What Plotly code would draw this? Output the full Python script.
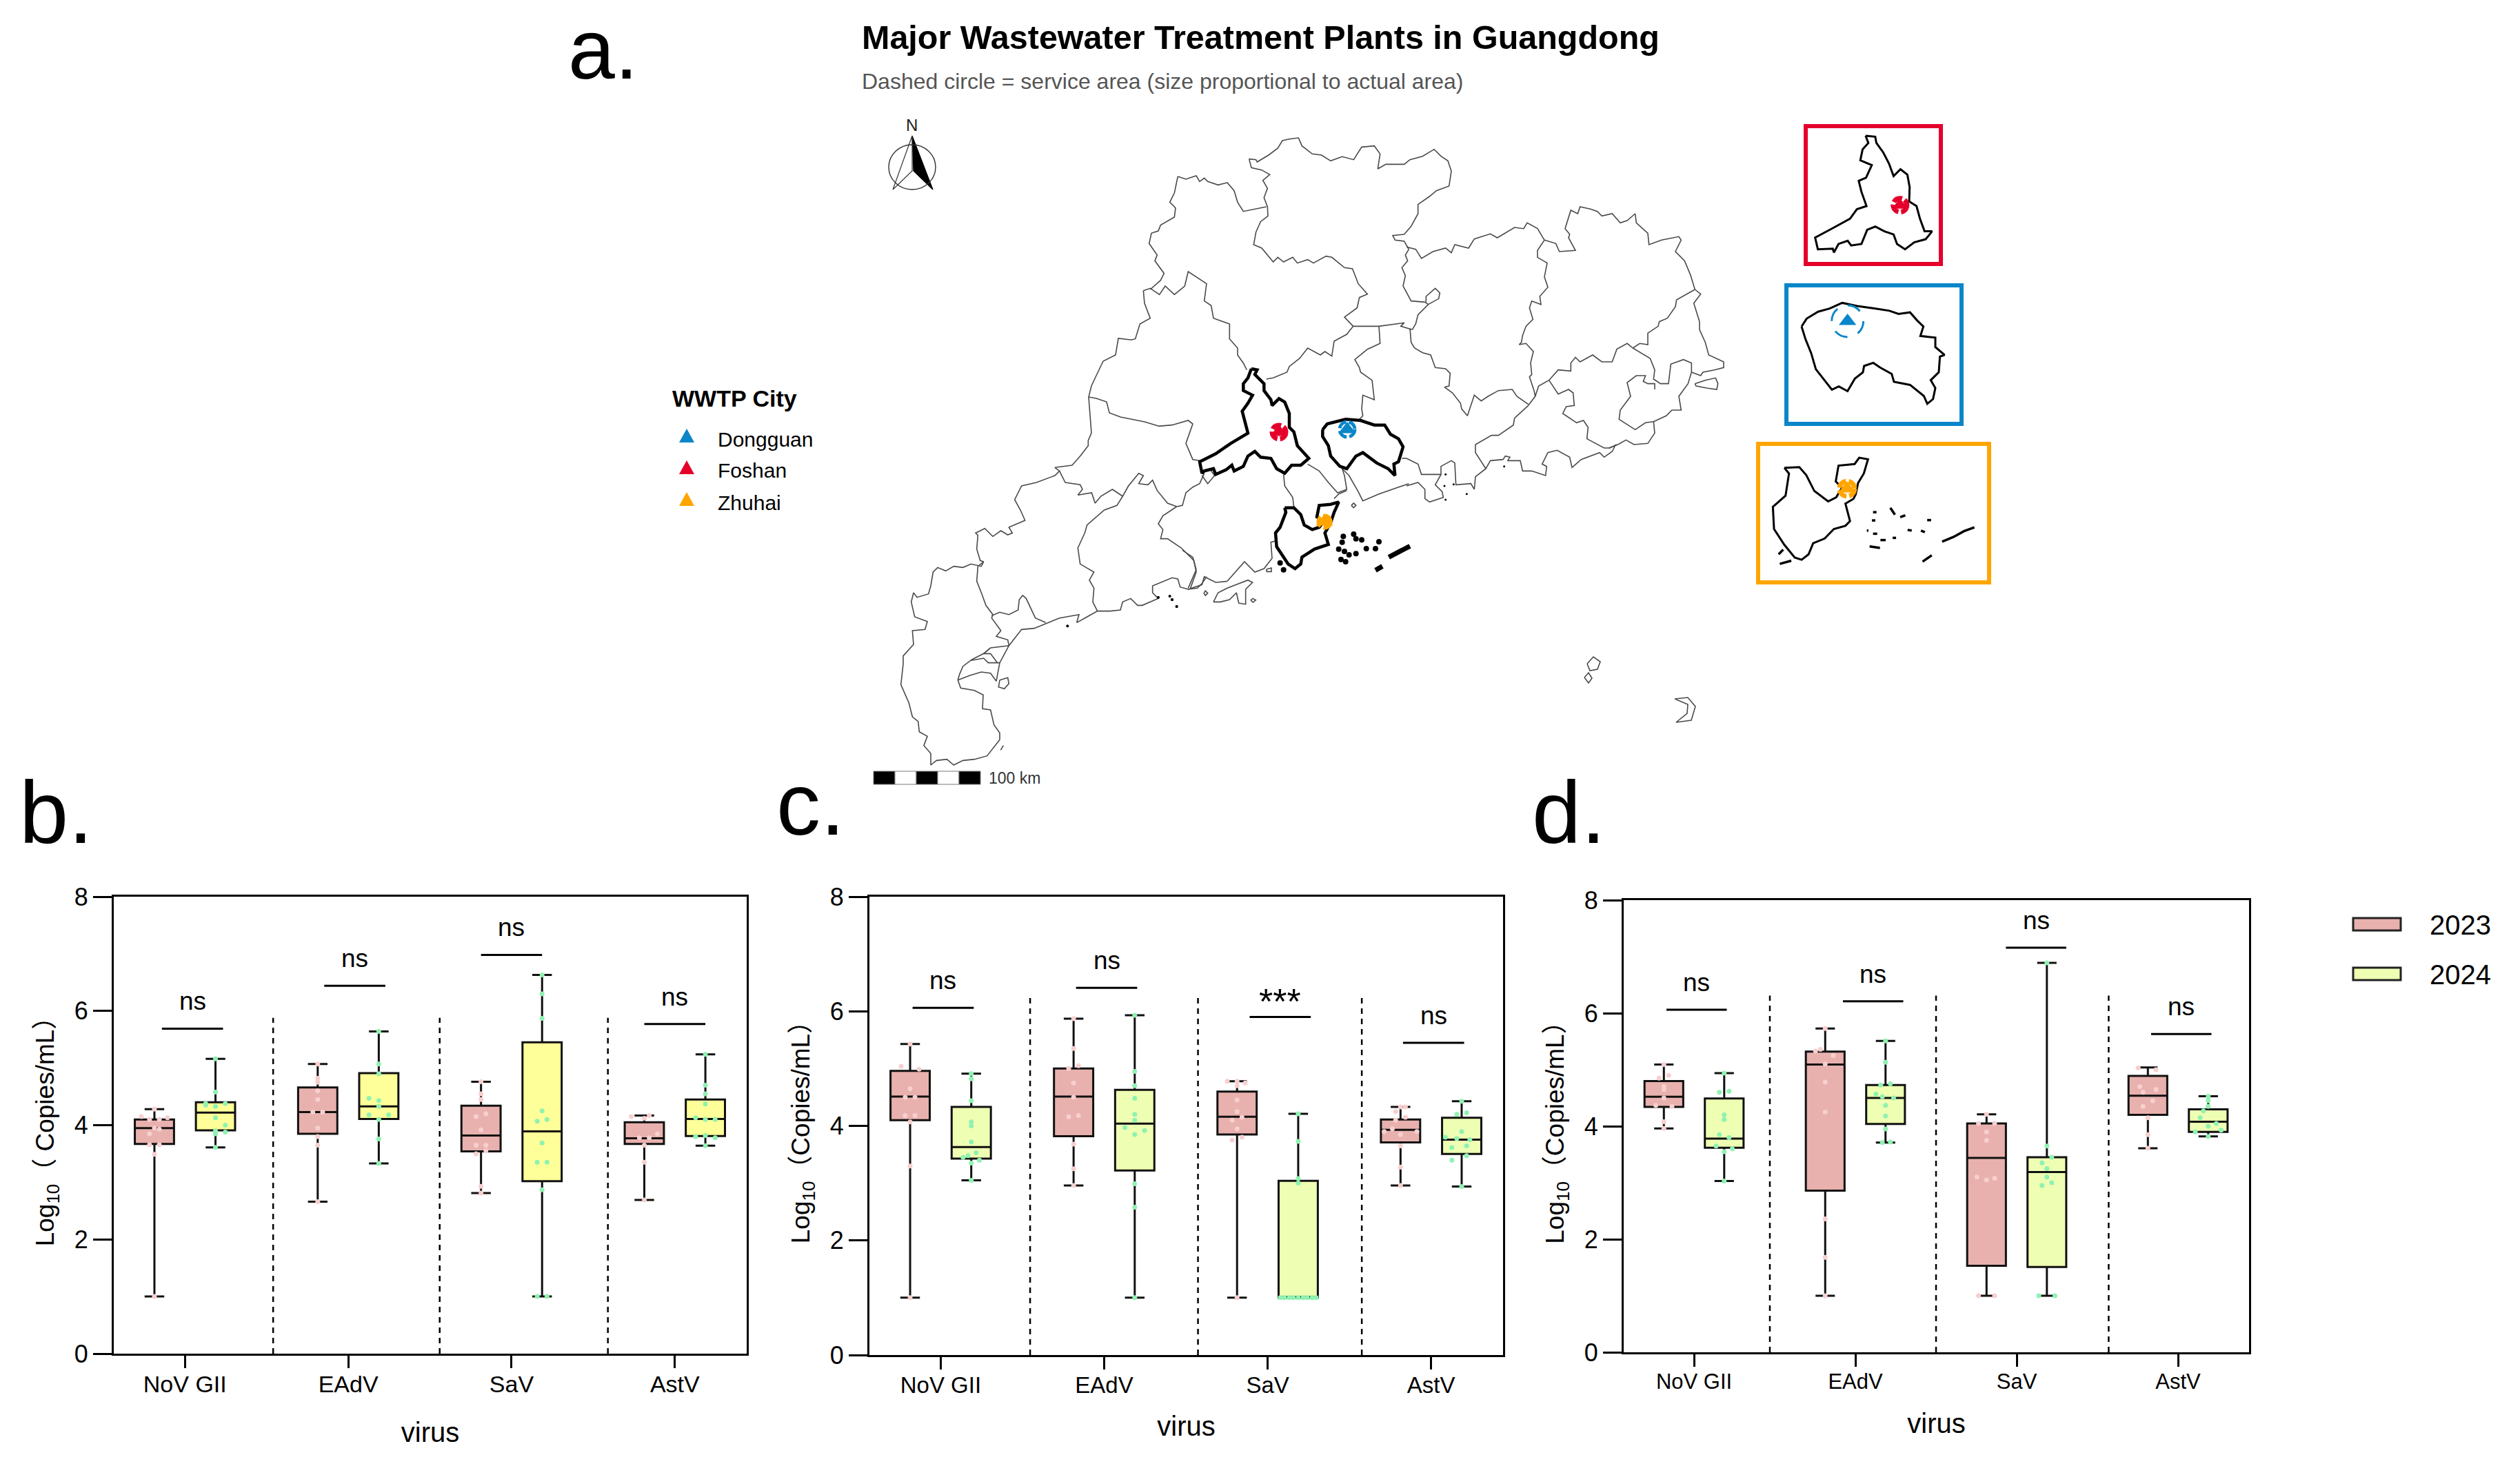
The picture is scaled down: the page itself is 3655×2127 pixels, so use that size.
import plotly.graph_objects as go

W, H = 3655, 2127
virus = ["NoV GII", "EAdV", "SaV", "AstV"]
years = ["2023", "2024"]

# ---------- panel b ----------
b23_low = [1.0, 2.66, 2.81, 2.69]
b23_q1 = [3.67, 3.85, 3.54, 3.67]
b23_med = [3.95, 4.23, 3.82, 3.77]
b23_q3 = [4.10, 4.66, 4.34, 4.05]
b23_high = [4.28, 5.07, 4.76, 4.17]
b24_low = [3.61, 3.33, 1.0, 3.64]
b24_q1 = [3.91, 4.11, 3.02, 3.81]
b24_med = [4.22, 4.33, 3.89, 4.11]
b24_q3 = [4.40, 4.91, 5.45, 4.45]
b24_high = [5.16, 5.64, 6.63, 5.24]
b23_pts = [[1.0, 3.49, 3.66, 3.66, 3.85, 3.93, 3.95, 4.15, 4.1, 4.1, 4.13, 4.28],
           [2.66, 3.65, 3.8, 3.95, 4.23, 4.23, 4.45, 4.6, 4.75, 4.82, 5.07],
           [2.81, 2.93, 3.5, 3.55, 3.65, 3.65, 3.92, 4.15, 4.2, 4.45, 4.55, 4.76],
           [2.69, 3.35, 3.65, 3.78, 3.78, 3.85, 4.15, 4.12, 4.17]]
b23_dx = [[0, 0, -.03, .03, -.03, .03, 0, -.08, -.03, .03, .08, 0],
          [0, 0, 0, 0, -.03, .03, 0, 0, 0, 0, 0],
          [0, 0, -.03, .03, -.03, .03, 0, -.03, .03, 0, 0, 0],
          [0, 0, 0, -.03, .03, .08, -.08, 0, .03]]
b24_pts = [[3.61, 3.85, 3.9, 3.88, 4.0, 4.13, 4.33, 4.38, 4.35, 4.38, 4.58, 5.16],
           [3.33, 3.76, 4.1, 4.18, 4.18, 4.33, 4.43, 4.47, 4.9, 5.07, 5.64],
           [1.0, 1.0, 2.87, 3.35, 3.35, 3.69, 4.07, 4.1, 4.25, 5.87, 6.3, 6.63],
           [3.64, 3.8, 3.78, 3.82, 4.1, 4.1, 4.13, 4.37, 4.55, 4.7, 5.24]]
b24_dx = [[0, 0, 0, .06, .06, 0, 0, -.06, -.06, .06, 0, 0],
          [0, 0, 0, -.06, .06, 0, 0, -.06, 0, 0, 0],
          [-.03, .03, 0, -.03, .03, 0, -.03, .03, 0, 0, 0, 0],
          [0, -.06, .06, 0, 0, .06, -.06, 0, 0, 0, 0]]
b_sig_text = ["ns", "ns", "ns", "ns"]
b_sig_x = [1.046, 2.04, 3.0, 4.0]
b_sig_y = [5.69, 6.44, 6.98, 5.77]
b_sep_x = [1.54, 2.56, 3.59]
b_sep_top = [5.88, 5.88, 5.88]

# ---------- panel c ----------
c23_low = [1.0, 2.96, 1.0, 2.96]
c23_q1 = [4.10, 3.82, 3.85, 3.71]
c23_med = [4.51, 4.51, 4.16, 3.93]
c23_q3 = [4.96, 5.0, 4.6, 4.11]
c23_high = [5.43, 5.87, 4.78, 4.33]
c24_low = [3.05, 1.0, 1.0, 2.94]
c24_q1 = [3.43, 3.22, 1.0, 3.51]
c24_med = [3.63, 4.04, 1.0, 3.76]
c24_q3 = [4.33, 4.63, 3.04, 4.14]
c24_high = [4.91, 5.93, 4.21, 4.43]
c23_pts = [[1.0, 3.3, 4.07, 4.18, 4.18, 4.5, 4.5, 4.65, 5.04, 4.99, 5.43],
           [2.96, 3.25, 3.68, 4.16, 4.18, 4.5, 4.75, 5.0, 5.05, 5.35, 5.87],
           [1.0, 3.75, 3.8, 3.95, 4.1, 4.15, 4.25, 4.45, 4.7, 4.75, 4.78, 4.78],
           [2.96, 3.28, 3.65, 3.85, 3.9, 3.95, 3.9, 4.15, 4.1, 4.25, 4.33, 4.33]]
c23_dx = [[0, 0, 0, -.03, .03, -.03, .03, 0, -.055, .055, 0],
          [0, 0, 0, -.03, .03, 0, 0, -.03, .03, 0, 0],
          [0, -.03, .03, 0, -.03, .03, 0, 0, 0, .05, -.06, 0],
          [0, 0, 0, 0, -.1, -.05, .1, .03, -.03, -.03, .03, 0]]
c24_pts = [[3.05, 3.35, 3.4, 3.45, 3.48, 3.53, 3.72, 4.0, 4.07, 4.44, 4.82, 4.91],
           [1.0, 2.58, 2.99, 3.85, 3.92, 3.97, 4.1, 4.2, 4.48, 4.7, 4.95, 5.93],
           [1.0, 1.0, 1.0, 1.0, 1.0, 1.0, 1.0, 1.0, 1.0, 3.0, 3.08, 3.73, 4.21],
           [2.94, 3.4, 3.48, 3.62, 3.65, 3.76, 3.78, 3.8, 3.9, 4.2, 4.23, 4.43]]
c24_dx = [[0, 0, .05, -.05, -.02, .03, 0, 0, 0, 0, 0, 0],
          [0, 0, 0, 0, .06, -.06, 0, 0, 0, 0, 0, 0],
          [-.11, -.085, -.055, -.03, 0, .03, .055, .085, .11, 0, 0, 0, 0],
          [0, -.06, .03, -.06, .03, .05, -.03, -.1, 0, -.03, .03, 0]]
c_sig_text = ["ns", "ns", "***", "ns"]
c_sig_x = [1.015, 2.015, 3.077, 4.015]
c_sig_y = [6.06, 6.41, 5.9, 5.45]
c_sep_x = [1.547, 2.574, 3.576]
c_sep_top = [6.24, 6.28, 6.28]

# ---------- panel d ----------
d23_low = [3.96, 1.0, 1.0, 3.61]
d23_q1 = [4.34, 2.86, 1.53, 4.2]
d23_med = [4.52, 5.09, 3.44, 4.54]
d23_q3 = [4.8, 5.32, 4.05, 4.89]
d23_high = [5.09, 5.73, 4.21, 5.04]
d24_low = [3.03, 3.71, 1.0, 3.82]
d24_q1 = [3.62, 4.04, 1.51, 3.9]
d24_med = [3.78, 4.5, 3.19, 4.08]
d24_q3 = [4.49, 4.73, 3.45, 4.3]
d24_high = [4.94, 5.51, 6.89, 4.53]
d23_pts = [[3.96, 4.08, 4.37, 4.35, 4.5, 4.65, 4.7, 4.85, 4.9, 5.09],
           [1.0, 1.68, 2.36, 4.25, 4.78, 5.1, 5.25, 5.33, 5.36, 5.73],
           [1.0, 1.0, 3.05, 3.1, 3.08, 3.75, 3.9, 4.05, 4.05, 4.21],
           [3.61, 3.85, 4.15, 4.35, 4.45, 4.6, 4.65, 4.7, 5.0, 5.03]]
d23_dx = [[0, 0, -.05, .05, 0, 0, 0, -.03, .03, 0],
          [0, 0, 0, 0, 0, 0, .05, -.06, -.03, 0],
          [-.05, .05, 0, -.06, .05, 0, 0, -.05, .05, 0],
          [0, 0, 0, -.03, .03, -.03, .05, -.05, .05, -.06]]
d24_pts = [[3.03, 3.55, 3.6, 3.65, 3.8, 3.85, 4.12, 4.2, 4.6, 4.62, 4.94],
           [3.71, 3.72, 3.95, 4.18, 4.37, 4.5, 4.52, 4.57, 4.73, 4.75, 5.13, 5.51],
           [1.0, 1.0, 2.95, 3.0, 3.1, 3.25, 3.35, 3.45, 3.65, 6.89],
           [3.82, 3.9, 3.93, 4.0, 4.05, 4.15, 4.27, 4.35, 4.45, 4.53]]
d24_dx = [[0, 0, .05, -.05, .03, -.03, 0, 0, -.03, .03, 0],
          [-.02, .03, 0, 0, 0, .05, -.02, -.06, -.03, .03, 0, 0],
          [-.05, .05, -.03, .03, 0, 0, -.03, .03, 0, 0],
          [0, -.08, .08, 0, .05, -.05, -.03, 0, 0, 0]]
d_sig_text = ["ns", "ns", "ns", "ns"]
d_sig_x = [1.016, 2.11, 3.12, 4.02]
d_sig_y = [6.06, 6.21, 7.16, 5.63]
d_sep_x = [1.47, 2.50, 3.57]
d_sep_top = [6.31, 6.31, 6.31]

# ---------- map borders, traced per map sheet (sheet units) ----------
west_sheet = [
    [(410,525),(400,545),(355,535),(320,550),(280,545),(245,565),(210,550),(190,570),(180,630),(170,665),(120,680),(105,660),(95,700),(110,765),(165,785),(155,820),(100,825),(105,885),(60,935),(60,970),(50,1060),(85,1140),(100,1200),(125,1220),(130,1265),(165,1285),(150,1325),(180,1360),(180,1410),(205,1390),(250,1385),(280,1410),(320,1390),(370,1385),(425,1370),(480,1300),(480,1270),(455,1235),(440,1170),(405,1165),(408,1105),(370,1085),(310,1075),(298,1040),(305,1015),(320,980),(360,950),(410,925),(440,900),(520,890)],
    [(385,545),(380,610),(400,660),(420,715),(450,755),(445,770),(485,825),(465,850),(515,865),(520,890)],
    [(385,545),(410,525),(395,520),(380,470),(385,410),(375,400),(385,395),(415,380),(450,415),(485,390),(515,408),(535,400),(520,375),(590,345),(570,300),(545,255),(575,195),(640,180),(720,150),(740,130),(720,115),(795,105),(830,65),(865,20),(865,0)],
    [(520,890),(575,820),(630,815),(690,790),(740,770),(825,755),(815,790),(860,765),(905,740),(960,740),(1005,735),(1015,700),(1050,685),(1080,715),(1100,715),(1170,685),(1145,660),(1145,630),(1230,595),(1255,600),(1265,635),(1300,645),(1340,640),(1360,620),(1380,590)],
    [(445,760),(480,745),(520,755),(560,735),(565,690),(580,672),(595,685),(635,770),(680,790)],
    [(905,740),(885,700),(890,640),(870,605),(890,570),(830,535),(820,465),(850,400),(860,365),(905,325),(935,300),(990,280),(1015,240),(1040,195),(1085,140),(1105,150),(1085,185),(1125,190),(1145,170),(1165,215),(1210,270),(1250,285)],
    [(740,130),(765,180),(830,190),(840,210),(820,235),(880,225),(895,270),(920,240),(970,210),(1015,240)],
    [(1250,285),(1190,325),(1170,360),(1190,385),(1180,425),(1210,425),(1270,465),(1325,520),(1335,570),(1310,640)],
    [(1250,285),(1275,280),(1290,225),(1320,200),(1350,185),(1370,140)],
    [(440,900),(410,925),(440,925),(470,965)],
    [(355,955),(410,945),(430,965),(480,965)],
    [(520,890),(480,965),(465,1045),(440,1010),(400,1005),(350,1020),(298,1040)],
    [(480,1040),(515,1030),(520,1055),(500,1078),(475,1070),(480,1040)],
    [(484,1345),(496,1325)],
]
north_sheet = [
    [(205,198),(240,210),(285,195),(300,220),(320,205),(335,220),(380,235),(420,225),(450,260),(465,310),(490,350),(540,340),(590,330)],
    [(205,198),(190,270),(170,310),(195,335),(190,375),(130,410),(120,435),(90,445),(80,490),(115,540),(105,565),(145,620),(130,650),(85,690)],
    [(55,695),(85,685),(125,712),(150,675),(190,712),(235,675),(250,612),(330,665),(320,740),(350,760),(360,815),(430,840),(430,905),(465,945),(465,975),(490,1010),(505,1040)],
    [(0,910),(20,905),(40,840),(85,815),(60,750),(55,695)],
    [(515,122),(545,125),(550,135),(600,105),(640,75),(660,42),(690,35),(730,30),(745,65),(790,100),(830,105),(870,130),(920,112),(970,125),(1005,70),(1060,65),(1085,100),(1075,165),(1110,145),(1190,145),(1215,125),(1270,110),(1320,80),(1350,110),(1380,130),(1395,175),(1385,240),(1330,260),(1300,285),(1250,320),(1250,360),(1220,415),(1190,450),(1140,455),(1150,475),(1190,480),(1210,515)],
    [(515,122),(525,160),(570,170),(605,190),(575,215),(595,250),(580,290),(595,330),(597,370),(565,395),(545,440),(535,495),(570,510),(620,570),(640,550),(665,570),(705,550),(725,575),(770,560),(795,575),(850,545),(875,550),(930,595),(965,600),(990,665),(1030,710),(995,725),(985,770),(930,810),(968,850)],
    [(968,850),(1080,850),(1190,835),(1175,850),(1225,865)],
    [(1210,515),(1195,540),(1205,565),(1180,595),(1195,630),(1185,675),(1220,740),(1280,745),(1295,755),(1250,800),(1240,840),(1225,865)],
    [(1285,745),(1285,720),(1325,685),(1345,705),(1340,730),(1295,755)],
    [(590,1080),(620,1075),(680,1050),(690,1025),(735,990),(770,945),(825,975),(845,960),(875,980),(885,915),(940,885),(968,850)],
    [(1080,850),(1085,925),(1030,950),(975,995),(995,1030),(1000,1050),(1050,1085),(1060,1170),(1010,1150),(1005,1210),(1010,1240),(990,1260)],
]
east_sheet = [
    [(0,265),(40,275),(65,315),(115,285),(170,270),(195,290),(210,255),(270,270),(295,230),(365,208),(395,225),(470,180),(510,185),(525,160),(570,185),(600,235)],
    [(15,620),(20,680),(35,705),(70,725),(105,735),(125,790),(170,795),(190,815),(185,870),(165,875),(200,900),(235,945),(240,970),(265,1000),(295,910),(325,935),(355,915),(400,890),(460,885),(480,915),(530,950)],
    [(600,235),(570,280),(570,310),(612,335),(600,395),(615,440),(580,480),(585,515),(545,500),(535,530),(550,580),(520,610),(505,650),(500,680),(490,690),(520,685),(552,720),(540,770),(545,820),(535,830),(555,890),(560,915),(530,955)],
    [(600,235),(650,250),(665,285),(735,280),(705,225),(710,210),(690,185),(715,105),(745,120),(755,90),(800,100),(830,110),(850,130),(895,120),(930,160),(960,150),(995,120),(1000,160),(1050,205),(1055,255),(1110,235),(1185,220),(1195,235),(1170,285),(1210,325),(1235,385),(1255,450)],
    [(1255,450),(1280,470),(1250,510),(1275,590),(1275,625),(1300,680),(1315,735),(1380,765),(1380,790),(1340,800),(1290,810),(1280,825),(1240,810)],
    [(1255,450),(1175,495),(1170,525),(1135,575),(1100,590),(1095,610),(1050,640),(1050,690),(1015,685),(985,705),(960,685),(915,710),(895,765),(850,765),(810,735),(755,765),(735,745),(715,770),(715,805),(660,800),(620,845),(575,870),(560,915)],
    [(985,705),(1060,750),(1080,800),(1075,840),(1105,860),(1140,860),(1150,775),(1205,755),(1240,770),(1240,810),(1225,860),(1185,915),(1195,975),(1155,975),(1130,1000),(1075,1025),(1080,1075),(1050,1120),(990,1125),(955,1105),(920,1125),(880,1140)],
    [(1080,885),(1080,860),(1050,860),(1030,850),(1040,825),(1000,825),(960,855),(975,915),(930,975),(925,1015),(995,1060),(1040,1030),(1075,1025)],
    [(620,845),(660,905),(705,885),(725,900),(730,955),(695,960),(680,990),(740,1030),(770,1020),(790,1050),(785,1100),(860,1140),(885,1140),(915,1125)],
    [(530,955),(470,1010),(465,1040),(400,1085),(370,1085),(300,1125),(300,1160),(345,1230),(365,1195),(420,1190),(430,1175),(450,1180),(440,1195),(495,1195),(505,1240),(545,1240),(605,1260),(610,1220),(590,1210),(615,1160),(655,1150),(710,1180),(720,1225),(760,1190),(840,1160),(860,1180),(895,1155),(910,1125)],
    [(1255,860),(1300,845),(1345,835),(1355,860),(1350,885),(1310,880),(1260,870),(1255,860)],
    [(345,1230),(300,1265),(295,1320),(280,1295),(215,1300),(210,1205),(195,1195),(150,1220),(150,1255),(65,1255),(50,1210),(0,1185)],
    [(150,1255),(125,1300),(155,1330),(160,1355),(100,1375),(80,1360),(80,1320),(50,1290),(0,1305)],
]
delta_thin = [
    [(650,460),(700,490),(740,540),(780,585),(820,570),(810,510),(800,480)],
    [(545,505),(550,555),(585,605),(590,650)],
    [(820,575),(785,590),(765,610)],
    [(190,510),(215,545),(245,510),(230,490)],
    [(130,1005),(190,985),(200,950),(250,975),(300,970),(375,885),(420,930),(460,915),(495,870),(490,800),(510,795)],
    [(150,865),(165,920),(130,1000)],
    [(105,835),(150,865)],
    [(0,295),(60,290),(130,270),(150,285),(120,370),(150,440),(180,445)],
    [(800,480),(830,510),(870,580),(890,620),(960,590),(1090,545)],
    [(1060,435),(1080,435)],
    [(240,1060),(260,1020),(300,1000),(340,985),(390,965),(410,975),(380,1005),(380,1070),(350,1065),(340,1020),(310,1050),(270,1060),(240,1060)],
    [(470,918),(492,912),(492,928),(472,928),(470,918)],
    [(840,640),(850,630),(860,640),(850,650),(840,640)],
    [(198,1022),(205,1012),(215,1022),(205,1032),(198,1022)],
    [(402,1052),(412,1045),(424,1052),(412,1062),(402,1052)],
]
delta_foshan = [(405,45),(430,50),(420,70),(460,110),(460,140),(490,180),(495,205),(525,175),(550,190),(570,240),(570,300),(590,320),(605,380),(655,435),(620,465),(580,465),(550,500),(515,480),(490,435),(445,430),(420,405),(390,425),(370,470),(330,490),(320,465),(295,485),(250,505),(240,480),(200,490),(190,500),(180,450),(250,415),(315,370),(390,325),(365,230),(390,195),(410,160),(370,140),(370,110),(390,85),(405,45)]
delta_dongguan = [(715,310),(735,285),(815,265),(880,270),(940,290),(985,290),(1010,330),(1045,350),(1065,385),(1045,450),(1025,460),(1030,510),(1000,480),(950,455),(890,410),(860,425),(820,480),(790,470),(750,425),(740,380),(715,340),(715,310)]
delta_zhuhai = [(550,650),(590,650),(620,680),(635,725),(670,745),(700,735),(720,710),(690,690),(700,640),(750,635),(785,625),(765,670),(750,715),(725,760),(740,810),(680,830),(625,865),(620,895),(595,915),(565,895),(515,820),(510,760),(530,735),(555,670),(550,650)]
delta_isle_x = [805,800,850,860,885,960,905,945,785,810,830,860,795,815,530,545]
delta_isle_y = [775,800,765,785,790,798,828,828,830,840,855,850,875,885,890,920]
delta_long_isles = [[(1003,865),(1095,817)], [(945,922),(975,905)]]
delta_dots_x = [0,60,80]
delta_dots_y = [1040,1050,1080]
west_dots_x = [775,1220,1230,1250]
west_dots_y = [805,675,690,720]
east_dots_x = [170,165,205,262,425,170]
east_dots_y = [1255,1305,1298,1340,1220,1365]
# map-scale coordinates
patch_border = [[(1640,493),(1622,491),(1618,515),(1600,524),(1590,545),(1583,560),(1579,576),(1581,600),(1583,628),(1578,640)],
                [(1579,576),(1590,578),(1605,583),(1609,599),(1625,605),(1640,608),(1660,612),(1680,618)]]
dongsha = [[(2302,963),(2311,953),(2321,960),(2317,971),(2306,973),(2302,963)],
           [(2298,983),(2304,976),(2309,984),(2304,991),(2298,983)],
           [(2429,1014),(2448,1012),(2459,1025),(2453,1045),(2431,1048),(2447,1035),(2448,1022),(2429,1014)]]
plants = ["Dongguan", "Foshan", "Zhuhai"]
plant_colors = ["#0a86c9", "#e4002b", "#ffa500"]
plant_x = [1954, 1855, 1921]
plant_y = [623, 627, 757]
needle_dark = [(1323,197),(1353,275),(1325,248),(1323,197)]
needle_light = [(1323,197),(1295,275),(1323,248),(1323,197)]

# ---------- insets (inset units) ----------
foshan_inset = [(558,102),(600,105),(605,125),(635,155),(660,190),(680,230),(710,208),(740,225),(750,265),(748,310),(780,325),(795,365),(815,405),(848,405),(820,430),(770,440),(730,462),(695,445),(680,415),(640,405),(600,390),(565,400),(540,445),(495,450),(480,435),(440,445),(420,472),(415,460),(350,462),(338,425),(415,395),(490,365),(520,335),(562,325),(540,280),(528,245),(560,235),(585,195),(535,180),(545,145),(570,125),(558,102)]
dongguan_inset = [(278,705),(300,680),(350,658),(400,648),(455,630),(520,640),(600,648),(660,655),(700,665),(750,660),(780,685),(808,705),(795,735),(860,740),(860,770),(900,795),(880,800),(875,850),(840,875),(860,900),(850,935),(825,950),(810,925),(750,890),(680,880),(670,855),(620,835),(590,820),(550,830),(545,850),(510,870),(478,910),(440,895),(410,905),(340,840),(320,790),(295,745),(278,705)]
zhuhai_inset = [(205,1152),(270,1150),(300,1175),(335,1225),(395,1258),(430,1245),(455,1215),(428,1195),(440,1145),(510,1140),(530,1120),(568,1125),(550,1170),(525,1200),(515,1235),(505,1250),(470,1265),(490,1320),(470,1335),(420,1345),(380,1375),(330,1390),(310,1425),(280,1442),(250,1435),(205,1395),(160,1345),(155,1275),(210,1240),(225,1170),(205,1152)]
zhuhai_isl = [[(890,1385),(940,1370),(985,1352),(1030,1340)], [(185,1455),(235,1445)], [(180,1425),(200,1410)],
              [(665,1278),(685,1300)], [(708,1308),(730,1302)], [(805,1448),(845,1428)], [(575,1400),(620,1405)],
              [(825,1317),(842,1317)], [(740,1348),(758,1350)], [(798,1350),(815,1355)], [(590,1292),(605,1292)],
              [(585,1318),(600,1318)], [(590,1360),(608,1360)], [(622,1380),(645,1380)], [(675,1373),(690,1373)],
              [(563,1350),(570,1350)]]
inset_plant_x = [478, 708, 477]
inset_plant_y = [688, 322, 1218]

COL23 = "#e8b1ae"
COL24B = "#ffff99"
COL24 = "#eeffb3"
PT23 = "#f7cfcf"
PT24 = "#8ff2b0"
FONT = "Liberation Sans, Arial, Noto Sans CJK SC"

fig = go.Figure()
layout = dict(width=W, height=H, margin=dict(l=0, r=0, t=0, b=0), autosize=False,
              paper_bgcolor="white", plot_bgcolor="white", showlegend=False,
              font=dict(family=FONT, color="black"), annotations=[], shapes=[])


def dom_x(a, b):
    return [a / W, b / W]


def dom_y(top, bottom):
    return [1 - bottom / H, 1 - top / H]


def panel(idx, box, low23, q123, med23, q323, high23, low24, q124, med24, q324, high24,
          pts23, dx23, pts24, dx24, sig_text, sig_x, sig_y, sep_x, sep_top, fill24,
          ytitle, tick_size, standoff_y, standoff_x, tick_shift):
    xa, ya = f"x{idx}", f"y{idx}"
    left, right, top, bottom = box
    layout[f"xaxis{idx}"] = dict(domain=dom_x(left, right), range=[0.564, 4.44], anchor=ya, automargin=False,
                                 tickvals=[1, 2, 3, 4], ticktext=virus, ticks="outside", ticklen=18,
                                 ticklabelstandoff=tick_shift,
                                 tickwidth=3, tickcolor="black", tickfont=dict(size=tick_size), showline=True,
                                 linewidth=3, linecolor="black", mirror=True, showgrid=False, zeroline=False,
                                 title=dict(text="virus", font=dict(size=40), standoff=standoff_x))
    layout[f"yaxis{idx}"] = dict(domain=dom_y(top, bottom), range=[0, 8], anchor=xa, automargin=False,
                                 tickvals=[0, 2, 4, 6, 8], ticks="outside", ticklen=27, tickwidth=3,
                                 tickcolor="black", tickfont=dict(size=36), showline=True, linewidth=3,
                                 linecolor="black", mirror=True, showgrid=False, zeroline=False,
                                 title=dict(text=ytitle, font=dict(size=37), standoff=standoff_y))
    for i in range(4):
        for off, lo, q1, med, q3, hi, fill, ys, dxs, pc, yr in (
                (-0.187, low23, q123, med23, q323, high23, COL23, pts23, dx23, PT23, years[0]),
                (0.187, low24, q124, med24, q324, high24, fill24, pts24, dx24, PT24, years[1])):
            c = i + 1 + off
            fig.add_trace(go.Box(x=[c], q1=[q1[i]], median=[med[i]], q3=[q3[i]], lowerfence=[lo[i]],
                                 upperfence=[hi[i]], width=0.24, fillcolor=fill, whiskerwidth=0.5,
                                 line=dict(color="#111111", width=3), boxpoints=False, name=yr,
                                 xaxis=xa, yaxis=ya))
            fig.add_trace(go.Scatter(x=[c + d for d in dxs[i]], y=ys[i], mode="markers", name=yr,
                                     marker=dict(size=7, color=pc), xaxis=xa, yaxis=ya))
    for sx, top_y in zip(sep_x, sep_top):
        fig.add_trace(go.Scatter(x=[sx, sx], y=[0, top_y], mode="lines", xaxis=xa, yaxis=ya,
                                 line=dict(color="black", width=2.5, dash="8px,7px")))
    for t, sx, sy in zip(sig_text, sig_x, sig_y):
        fig.add_trace(go.Scatter(x=[sx - 0.187, sx + 0.187], y=[sy, sy], mode="lines", xaxis=xa, yaxis=ya,
                                 line=dict(color="black", width=3)))
        star = t == "***"
        layout["annotations"].append(dict(x=sx, y=sy + (0.27 if star else 0.48), xref=xa, yref=ya, text=t,
                                          showarrow=False, font=dict(size=52 if star else 37),
                                          yanchor="middle"))


panel(1, (165, 1083, 1301, 1964), b23_low, b23_q1, b23_med, b23_q3, b23_high, b24_low, b24_q1, b24_med, b24_q3,
      b24_high, b23_pts, b23_dx, b24_pts, b24_dx, b_sig_text, b_sig_x, b_sig_y, b_sep_x, b_sep_top, COL24B,
      "Log<sub>10</sub>（ Copies/mL）", 34, 18, 39, -6)
panel(2, (1261, 2180, 1301, 1966), c23_low, c23_q1, c23_med, c23_q3, c23_high, c24_low, c24_q1, c24_med, c24_q3,
      c24_high, c23_pts, c23_dx, c24_pts, c24_dx, c_sig_text, c_sig_x, c_sig_y, c_sep_x, c_sep_top, COL24,
      "Log<sub>10</sub>（Copies/mL）", 33, 18, 29, -6)
panel(3, (2355, 3262, 1306, 1962), d23_low, d23_q1, d23_med, d23_q3, d23_high, d24_low, d24_q1, d24_med, d24_q3,
      d24_high, d23_pts, d23_dx, d24_pts, d24_dx, d_sig_text, d_sig_x, d_sig_y, d_sep_x, d_sep_top, COL24,
      "Log<sub>10</sub>（Copies/mL）", 31, 18, 30, -5)


def plain_axis(idx, box, xr, yr, color=None):
    left, right, top, bottom = box
    frame = dict(showline=True, linewidth=6, linecolor=color, mirror=True) if color else dict(showline=False)
    layout[f"xaxis{idx}"] = dict(domain=dom_x(left, right), range=xr, anchor=f"y{idx}", showgrid=False, automargin=False,
                                 zeroline=False, showticklabels=False, ticks="", **frame)
    layout[f"yaxis{idx}"] = dict(domain=dom_y(top, bottom), range=yr, anchor=f"x{idx}", showgrid=False, automargin=False,
                                 zeroline=False, showticklabels=False, ticks="", **frame)


def outline(pts, idx, color, width, fill=None):
    fig.add_trace(go.Scatter(x=[p[0] for p in pts], y=[p[1] for p in pts], mode="lines", xaxis=f"x{idx}",
                             yaxis=f"y{idx}", line=dict(color=color, width=width, shape="linear"),
                             fill="toself" if fill else None, fillcolor=fill))


def sheet(pts, ox, oy):
    return [(ox + p[0] / 3, oy + p[1] / 3) for p in pts]


def dashed_ring(idx, x, y, r, color, width=3, dash="20px,16px"):
    layout["shapes"].append(dict(type="circle", xref=f"x{idx}", yref=f"y{idx}", xsizemode="pixel", ysizemode="pixel",
                                 xanchor=x, yanchor=y, x0=-r, x1=r, y0=-r, y1=r,
                                 line=dict(color=color, width=width, dash=dash)))


# main map
plain_axis(4, (1200, 2550, 150, 1170), [1200, 2550], [1170, 150])
THIN, THIN_W = "#4a4a4a", 1.6
for sheet_lines, ox, oy in ((west_sheet, 1290, 640), (north_sheet, 1640, 190), (east_sheet, 2040, 270),
                            (delta_thin, 1680, 520)):
    for line in sheet_lines:
        outline(sheet(line, ox, oy), 4, THIN, THIN_W)
for line in patch_border + dongsha:
    outline(line, 4, THIN, THIN_W)
for shape in (delta_foshan, delta_dongguan, delta_zhuhai):
    outline(sheet(shape, 1680, 520), 4, "black", 4.5)
for line in delta_long_isles:
    outline(sheet(line, 1680, 520), 4, "black", 7)
for xs, ys, ox, oy, sz in ((delta_isle_x, delta_isle_y, 1680, 520, 8), (delta_dots_x, delta_dots_y, 1680, 520, 4),
                           (west_dots_x, west_dots_y, 1290, 640, 4), (east_dots_x, east_dots_y, 2040, 270, 3)):
    fig.add_trace(go.Scatter(x=[ox + v / 3 for v in xs], y=[oy + v / 3 for v in ys], mode="markers", xaxis="x4",
                             yaxis="y4", marker=dict(color="black", size=sz)))
for name, col, px, py, rr, rw in zip(plants, plant_colors, plant_x, plant_y, [11, 10, 8], [5, 7, 7]):
    fig.add_trace(go.Scatter(x=[px], y=[py], mode="markers", name=name, xaxis="x4", yaxis="y4",
                             marker=dict(symbol="triangle-up", size=22, color=col)))
    dashed_ring(4, px, py, rr, col, rw, "14px,4px")
outline(needle_dark, 4, "black", 1.2, fill="black")
outline(needle_light, 4, "#333333", 1.2)
layout["shapes"].append(dict(type="circle", xref="x4", yref="y4", x0=1289, x1=1357, y0=210, y1=275,
                             line=dict(color="#333333", width=1.4)))
# scale bar
for k, col in enumerate(["black", "white", "black", "white", "black"]):
    layout["shapes"].append(dict(type="rect", xref="x4", yref="y4", x0=1267 + 31 * k, x1=1298 + 31 * k, y0=1119, y1=1138,
                                 fillcolor=col, line=dict(color="#777777", width=1)))
layout["annotations"].append(dict(x=1432, y=1129, xref="x4", yref="y4", text="100 km", showarrow=False, xanchor="left",
                                  font=dict(size=23, color="#333333")))
layout["annotations"].append(dict(x=1322, y=181, xref="x4", yref="y4", text="N", showarrow=False,
                                  font=dict(size=24, color="#222222")))

# insets
inset_boxes = [(2622, 2812, 186, 380), (2594, 2842, 417, 612), (2553, 2882, 647, 842)]
inset_xr = [[306, 877], [221, 965], [100, 1085]]
inset_yr = [[502, 78], [1007, 581], [1507, 1083]]
inset_cols = [plant_colors[1], plant_colors[0], plant_colors[2]]
for j, (bx, xr, yr, col) in enumerate(zip(inset_boxes, inset_xr, inset_yr, inset_cols)):
    plain_axis(5 + j, bx, xr, yr, color=col)
outline(foshan_inset, 5, "black", 3)
outline(dongguan_inset, 6, "black", 3)
outline(zhuhai_inset, 7, "black", 3)
for seg in zhuhai_isl:
    outline(seg, 7, "black", 3.5)
for idx, k, rr, rw, dsh, ms in ((5, 1, 10, 7, "14px,4px", 20), (6, 0, 23, 3, "20px,16px", 22), (7, 2, 11, 7, "14px,4px", 22)):
    px, py = inset_plant_x[k], inset_plant_y[k]
    fig.add_trace(go.Scatter(x=[px], y=[py], mode="markers", xaxis=f"x{idx}", yaxis=f"y{idx}",
                             marker=dict(symbol="triangle-up", size=ms, color=plant_colors[k])))
    dashed_ring(idx, px, py, rr, plant_colors[k], rw, dsh)


def page_text(x, y, text, size, anchor="left", color="black", bold=False):
    layout["annotations"].append(dict(x=x / W, y=1 - y / H, xref="paper", yref="paper", text=f"<b>{text}</b>" if bold else text,
                                      showarrow=False, xanchor=anchor, yanchor="middle",
                                      font=dict(size=size, color=color)))


page_text(1248, 54, "Major Wastewater Treatment Plants in Guangdong", 48.5, bold=True)
page_text(1248, 118, "Dashed circle = service area (size proportional to actual area)", 32, color="#555555")
for t, x, y, sz in (("a.", 822, 72, 122), ("b.", 26, 1178, 128), ("c.", 1124, 1166, 128), ("d.", 2220, 1178, 128)):
    page_text(x, y, t, sz)

# city legend
page_text(973, 578, "WWTP City", 34, bold=True)
for name, col, y in zip(plants, plant_colors, [632, 678, 724]):
    page_text(1039, y + 5, name, 30)
    layout["shapes"].append(dict(type="path", xref="paper", yref="paper",
                                 path=f"M {985/W} {1-(y+10)/H} L {1007/W} {1-(y+10)/H} L {996/W} {1-(y-10)/H} Z",
                                 fillcolor=col, line=dict(width=0)))

# year legend
for yr, col, top in zip(years, [COL23, COL24], [1332, 1404]):
    layout["shapes"].append(dict(type="rect", xref="paper", yref="paper", x0=3413 / W, x1=3482 / W,
                                 y0=1 - (top + 18) / H, y1=1 - top / H, fillcolor=col,
                                 line=dict(color="#222222", width=3)))
    page_text(3522, top + 10, yr, 40)

fig.update_layout(**layout)
fig.write_html("out.html", config={"displayModeBar": False}, post_script="document.body.style.margin='0';")
